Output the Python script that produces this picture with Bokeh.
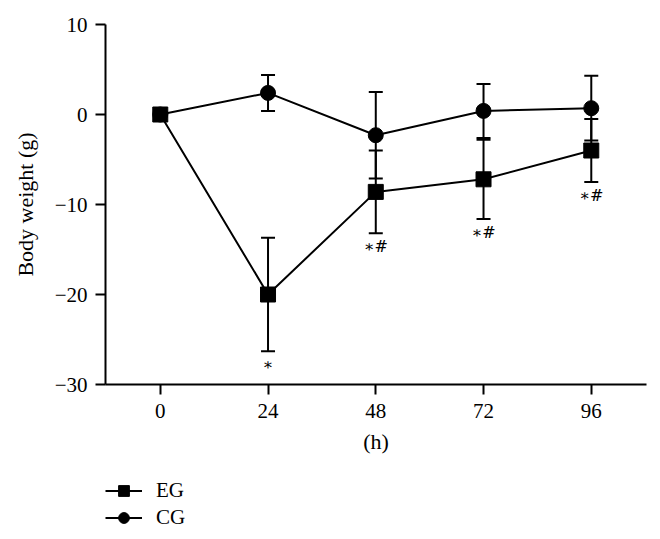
from bokeh.plotting import figure
from bokeh.layouts import column
from bokeh.models import (ColumnDataSource, Range1d, FixedTicker, Whisker, TeeHead,
                          Legend, LegendItem)
from bokeh.core.properties import value
from bokeh.embed import file_html
from bokeh.resources import INLINE

# ---- data ----
hours = [0, 24, 48, 72, 96]
eg_mean = [0.0, -20.0, -8.6, -7.2, -4.0]
eg_err = [0.0, 6.3, 4.6, 4.4, 3.5]
cg_mean = [0.0, 2.4, -2.3, 0.4, 0.7]
cg_err = [0.0, 2.0, 4.8, 3.0, 3.6]
eg_marks = ["", "\u2217", "\u2217#", "\u2217#", "\u2217#"]
x_ticks = [0, 24, 48, 72, 96]
y_ticks = [-30, -20, -10, 0, 10]
y_tick_labels = ["\u221230", "\u221220", "\u221210", "0", "10"]
series_names = ["EG", "CG"]

FONT = "Liberation Serif"

p = figure(width=652, height=470, output_backend="svg", toolbar_location=None,
           x_range=Range1d(-12.2, 108.3), y_range=Range1d(-30, 10),
           min_border_left=105, min_border_right=6, min_border_top=24,
           min_border_bottom=86)
p.outline_line_color = None
p.xgrid.visible = False
p.ygrid.visible = False
p.background_fill_color = "white"

eg_src = ColumnDataSource(dict(
    x=hours, y=eg_mean,
    upper=[m + e for m, e in zip(eg_mean, eg_err)],
    lower=[m - e for m, e in zip(eg_mean, eg_err)],
    marks=eg_marks))
cg_src = ColumnDataSource(dict(
    x=hours, y=cg_mean,
    upper=[m + e for m, e in zip(cg_mean, cg_err)],
    lower=[m - e for m, e in zip(cg_mean, cg_err)]))

eg_line = p.line("x", "y", source=eg_src, line_color="black", line_width=2)
cg_line = p.line("x", "y", source=cg_src, line_color="black", line_width=2)

for src in (eg_src, cg_src):
    w = Whisker(source=src, base="x", upper="upper", lower="lower",
                line_color="black", line_width=2,
                upper_head=TeeHead(size=14, line_width=2, line_color="black"),
                lower_head=TeeHead(size=14, line_width=2, line_color="black"))
    p.add_layout(w)

eg_sc = p.scatter("x", "y", source=eg_src, marker="square", size=15,
                  fill_color="black", line_color="black")
cg_sc = p.scatter("x", "y", source=cg_src, marker="circle", size=15,
                  fill_color="black", line_color="black")

p.text(x="x", y="lower", text="marks", source=eg_src, text_align="center",
       text_baseline="top", y_offset=4, text_font=value("DejaVu Serif"),
       text_font_size="16px", text_color="black")

# axes
for ax in (p.xaxis[0], p.yaxis[0]):
    ax.axis_line_width = 2
    ax.axis_line_color = "black"
    ax.major_tick_line_width = 2
    ax.major_tick_line_color = "black"
    ax.major_tick_out = 10
    ax.major_tick_in = 0
    ax.minor_tick_line_color = None
    ax.major_label_text_font = FONT
    ax.major_label_text_font_size = "21px"
    ax.major_label_text_color = "black"
    ax.axis_label_text_font = FONT
    ax.axis_label_text_font_size = "22px"
    ax.axis_label_text_font_style = "normal"
    ax.axis_label_text_color = "black"

p.xaxis.ticker = FixedTicker(ticks=x_ticks)
p.yaxis.ticker = FixedTicker(ticks=y_ticks)
p.yaxis.major_label_overrides = {t: l for t, l in zip(y_ticks, y_tick_labels)}
p.xaxis.axis_label = "(h)"
p.yaxis.axis_label = "Body weight (g)"
p.yaxis.major_label_standoff = 8
p.xaxis.major_label_standoff = 9
p.yaxis.axis_label_standoff = 14
p.xaxis.axis_label_standoff = 8

# ---- legend figure below (its glyphs lie outside its view; only the legend shows) ----
p2 = figure(width=652, height=66, output_backend="svg", toolbar_location=None,
            x_range=Range1d(1000, 1001), y_range=Range1d(1000, 1001),
            x_axis_location=None, y_axis_location=None,
            min_border_left=0, min_border_right=0, min_border_top=0,
            min_border_bottom=0)
p2.outline_line_color = None
p2.xgrid.visible = False
p2.ygrid.visible = False
leg_eg_line = p2.line("x", "y", source=eg_src, line_color="black", line_width=2)
leg_eg_sc = p2.scatter("x", "y", source=eg_src, marker="square", size=13,
                       fill_color="black", line_color="black")
leg_cg_line = p2.line("x", "y", source=cg_src, line_color="black", line_width=2)
leg_cg_sc = p2.scatter("x", "y", source=cg_src, marker="circle", size=13,
                       fill_color="black", line_color="black")

legend = Legend(items=[LegendItem(label=series_names[0], renderers=[leg_eg_line, leg_eg_sc]),
                       LegendItem(label=series_names[1], renderers=[leg_cg_line, leg_cg_sc])],
                location=(0, 5), padding=0, margin=0, spacing=0,
                glyph_width=37, glyph_height=27, label_height=27,
                label_standoff=14, border_line_color=None,
                background_fill_alpha=0,
                label_text_font=FONT, label_text_font_size="21px",
                label_text_color="black")
p2.add_layout(legend, "center")

open("out.html", "w").write(file_html(column(p, p2), INLINE))
